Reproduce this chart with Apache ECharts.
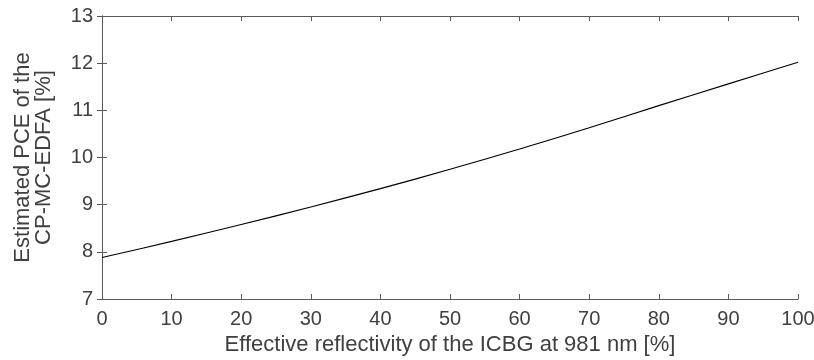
<!DOCTYPE html>
<html>
<head>
<meta charset="utf-8">
<script src="https://cdn.jsdelivr.net/npm/echarts@6/dist/echarts.min.js"></script>
<style>
  html, body { margin: 0; padding: 0; background: #fff; }
  #chart { width: 814px; height: 360px; }
</style>
</head>
<body>
<div id="chart"></div>
<script>
    // reflectivity of the ICBG [%] and estimated PCE [%]
    var reflectivity = [0, 10, 20, 30, 40, 50, 60, 70, 80, 90, 100];
    var pce = [7.88, 8.22, 8.58, 8.95, 9.34, 9.75, 10.18, 10.63, 11.10, 11.56, 12.02];
    var xTicks = [0, 10, 20, 30, 40, 50, 60, 70, 80, 90, 100];
    var yTicks = [7, 8, 9, 10, 11, 12, 13];

    var axisColor = '#5a5a5a';
    var textColor = '#404040';
    var fontFam = '"Liberation Sans", Arial, sans-serif';

    var myChart = echarts.init(document.getElementById('chart'));

    var boxAxis = {
        axisLine: { show: true, lineStyle: { color: axisColor, width: 1 } },
        axisTick: { show: true, inside: true, length: 5, lineStyle: { color: axisColor } },
        splitLine: { show: false }
    };

    var option = {
        animation: false,
        grid: { left: 102, right: 16, top: 16, bottom: 61, containLabel: false, outerBoundsMode: 'none' },
        xAxis: [
            Object.assign({
                type: 'value', min: xTicks[0], max: xTicks[xTicks.length - 1], interval: 10,
                position: 'bottom',
                name: 'Effective reflectivity of the ICBG at 981 nm [%]',
                nameLocation: 'middle', nameGap: 34,
                nameTextStyle: { color: textColor, fontSize: 22, fontFamily: fontFam },
                axisLabel: { color: textColor, fontSize: 20, fontFamily: fontFam, margin: 10 }
            }, boxAxis),
            Object.assign({
                type: 'value', min: 0, max: 100, interval: 10, position: 'top',
                axisLabel: { show: false }
            }, boxAxis)
        ],
        yAxis: [
            Object.assign({
                type: 'value', min: yTicks[0], max: yTicks[yTicks.length - 1], interval: 1,
                position: 'left',
                name: 'Estimated PCE of the\nCP-MC-EDFA [%]',
                nameLocation: 'middle', nameGap: 48, nameRotate: 90,
                nameTextStyle: { color: textColor, fontSize: 22, fontFamily: fontFam, lineHeight: 21 },
                axisLabel: { color: textColor, fontSize: 20, fontFamily: fontFam, margin: 9 }
            }, boxAxis),
            Object.assign({
                type: 'value', min: 7, max: 13, interval: 1, position: 'right',
                axisLabel: { show: false }
            }, boxAxis)
        ],
        series: [
            {
                type: 'line',
                data: reflectivity.map(function (r, i) { return [r, pce[i]]; }),
                smooth: 0.3,
                showSymbol: false,
                lineStyle: { color: '#000', width: 1.2 }
            }
        ]
    };

    myChart.setOption(option);
</script>
</body>
</html>
